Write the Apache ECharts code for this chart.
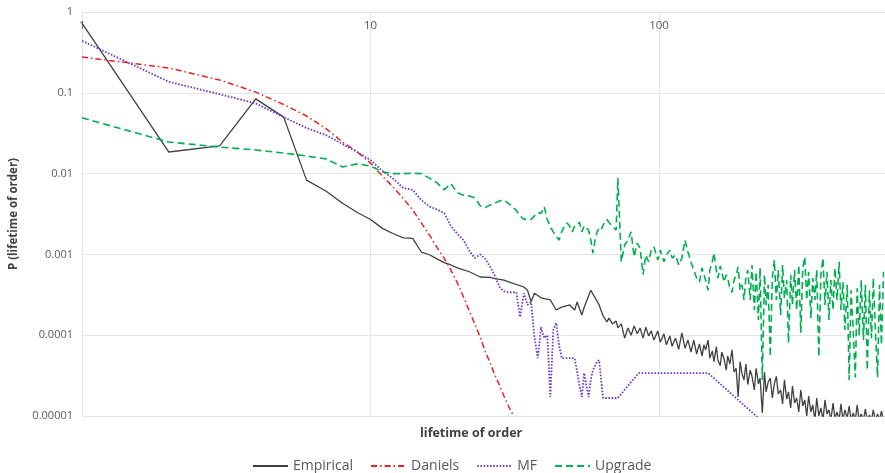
<!DOCTYPE html>
<html>
<head>
<meta charset="utf-8">
<script src="https://cdn.jsdelivr.net/npm/echarts@6/dist/echarts.min.js"></script>
<style>
html,body{margin:0;padding:0;background:#fff;}
#chart{width:885px;height:473px;}
</style>
</head>
<body>
<div id="chart"></div>
<script>
// ---------- tick labels ----------
const xTickValues = [1, 10, 100];
const xTickLabels = { '0': '1', '1': '10', '2': '100' };
const yTickLabels = { '-5': '0.00001', '-4': '0.0001', '-3': '0.001', '-2': '0.01', '-1': '0.1', '0': '1' };
const seriesNames = ['Empirical', 'Daniels', 'MF', 'Upgrade'];

// ---------- Empirical ----------
const empiricalHeadX = [1,2,3,4,5,6,7,8,9,10,11,12,13,14,15,16,17,18,19,20,
  22,24,26,27,29,31,34,35,36,37,39,42,44,46,49,51,52,54,55,58,62];
const empiricalHeadY = [0.73,0.0185,0.022,0.084,0.050,0.0083,0.0061,0.0043,0.0033,0.0027,
  0.0021,0.0018,0.0016,0.00158,0.00107,0.00099,0.00088,0.00079,0.00074,0.00068,
  6.1e-4,5.25e-4,5.2e-4,5.0e-4,4.8e-4,4.4e-4,3.95e-4,3.6e-4,2.6e-4,3.3e-4,
  2.9e-4,2.73e-4,2.05e-4,2.23e-4,2.37e-4,2.05e-4,2.58e-4,1.78e-4,2.2e-4,3.6e-4,2.37e-4];

// shared lifetimes for the noisy tails
const tailX = [64,66,67,69,71,72,74,76,78,80,82,84,86,88,90,92,94,96,99,101,
  104,106,109,111,114,117,120,123,126,129,132,135,138,
  141,143,145,148,150,153,155,158,160,163,165,168,171,173,176,179,182,185,188,191,
  194,197,200,203,207,210,214,217,221,224,228,232,235,239,243,247,251,255,259,264,
  268,272,277,281,286,290,295,300,305,310,315,320,325,330,336,341,347,352,358,364,
  370,376,382,388,394,401,407,414,421,427,434,441,449,456,463,471,479,486,494,502,
  511,519,527,536,545,553,562,572,581,590,600];

const empiricalTailY = [1.73e-4,1.46e-4,1.63e-4,1.38e-4,1.5e-4,1.23e-4,1.38e-4,9.2e-5,1.23e-4,1.0e-4,
  1.3e-4,1.04e-4,1.23e-4,9.2e-5,1.26e-4,9.8e-5,1.13e-4,8.7e-5,1.13e-4,8.2e-5,
  1.04e-4,7.6e-5,9.8e-5,7.3e-5,9.2e-5,6.7e-5,1.07e-4,6.9e-5,8.7e-5,6.2e-5,8.7e-5,5.85e-5,7.8e-5,
  5.5e-5,7.6e-5,6.6e-5,8.7e-5,5.2e-5,6.4e-5,4.7e-5,7.2e-5,4.9e-5,4.2e-5,
  6.2e-5,5.1e-5,3.7e-5,5.5e-5,4.4e-5,6.6e-5,3.5e-5,3.9e-5,1.72e-5,4.7e-5,
  3.3e-5,2.8e-5,4.4e-5,2.45e-5,3.7e-5,3.1e-5,2.1e-5,3.9e-5,2.5e-5,2.95e-5,
  1.09e-5,3.5e-5,1.98e-5,2.64e-5,2.95e-5,1.67e-5,2.5e-5,3.1e-5,1.87e-5,2.1e-5,
  1.41e-5,2.8e-5,1.62e-5,1.98e-5,1.26e-5,2.35e-5,1.45e-5,1.67e-5,1.12e-5,2.1e-5,
  1.33e-5,1.58e-5,1.0e-5,1.77e-5,1.12e-5,1.37e-5,8.9e-6,1.67e-5,1.0e-5,1.26e-5,
  8.9e-6,1.58e-5,1.06e-5,1.19e-5,8.9e-6,1.45e-5,9.4e-6,1.12e-5,8.9e-6,1.41e-5,
  8.9e-6,1.19e-5,9.4e-6,1.33e-5,8.9e-6,1.09e-5,8.9e-6,1.37e-5,8.9e-6,1.06e-5,
  8.9e-6,1.22e-5,8.9e-6,1.03e-5,8.9e-6,1.19e-5,8.9e-6,1.06e-5,8.9e-6,1.15e-5,8.9e-6];

// ---------- Daniels ----------
const danielsX = [1,2,3,4,5,6,7,8,9,10,11,12,13,14,15,16,17,18,19,20,21,22,23,24,25,26,27,28,29,30,31,32];
const danielsY = [0.277,0.203,0.144,0.102,0.0716,0.0516,0.0362,0.0246,0.0185,0.0135,
  0.0093,0.0068,0.0049,0.00355,0.00245,0.00174,0.00122,0.0009,0.00064,0.000445,
  2.97e-4,2.0e-4,1.38e-4,9.4e-5,6.3e-5,4.5e-5,3.2e-5,2.4e-5,1.77e-5,1.35e-5,1.07e-5,8e-6];

// ---------- MF ----------
const mfX = [1,2,3,4,5,6,7,8,9,10,11,12,13,14,15,16,17,18,19,20,21,22,23,24,25,26,27,28,29,30,
  32,33,34,35,36,37,38,39,40,41,42,43,44,45,46,51,53,54,55,56,57,58,59,61,62,63,64,72,85,148,217,230];
const mfY = [0.44,0.137,0.096,0.074,0.050,0.0367,0.030,0.0232,0.0185,0.0147,
  0.0108,0.0086,0.0066,0.0063,0.0047,0.0039,0.0036,0.00325,0.00225,0.0018,
  0.0015,0.00111,9.0e-4,1.0e-3,8.8e-4,7.0e-4,5.4e-4,3.95e-4,3.5e-4,3.4e-4,
  3.4e-4,1.68e-4,3.3e-4,2.37e-4,2.58e-4,9.5e-5,5.2e-5,1.26e-4,9.2e-5,1.0e-4,
  1.72e-5,1.16e-4,1.42e-4,7.6e-5,5.2e-5,5.2e-5,2.4e-5,1.72e-5,3.4e-5,2.4e-5,
  1.72e-5,2.8e-5,3.7e-5,4.7e-5,4.9e-5,2.8e-5,1.67e-5,1.67e-5,3.4e-5,3.4e-5,1.0e-5,8e-6];

// ---------- Upgrade ----------
const upgradeHeadX = [1,2,3,4,5,6,7,8,9,10,11,12,13,14,15,16,17,18,19,20,
  21,22,23,24,25,26,27,28,29,30,31,32,33,34,35,36,37,38,39,40,
  41,42,43,44,45,46,47,48,49,50,51,52,53,54,55,56,57,58,59,60,61,62,63];
const upgradeHeadY = [0.049,0.0246,0.0213,0.0196,0.018,0.0165,0.0152,0.0121,0.0132,0.0124,
  0.0105,0.0100,0.0100,0.0101,0.0100,0.0088,0.0077,0.0063,0.0075,0.0058,
  0.0054,0.0053,0.0050,0.0040,0.0038,0.0041,0.0043,0.0046,0.0047,0.0043,
  0.0039,0.0035,0.0030,0.0027,0.0028,0.0027,0.0030,0.0033,0.0032,0.0039,
  0.0027,0.0022,0.0019,0.0017,0.0015,0.0019,0.00225,0.00245,0.00225,0.0019,
  0.00225,0.0023,0.0025,0.0019,0.00225,0.0021,0.0020,0.0015,0.00104,0.0015,
  0.0019,0.0021,0.0020];
const upgradeTailY = [0.0023,0.0027,0.0025,0.0022,0.0020,0.0088,8.1e-4,1.31e-3,1.5e-3,1.9e-3,
  9.3e-4,1.38e-3,1.2e-3,5.6e-4,9.8e-4,8.1e-4,1.13e-3,1.24e-3,8.5e-4,1.13e-3,
  8.1e-4,9.8e-4,1.13e-3,9.0e-4,9.8e-4,7.4e-4,9.0e-4,1.5e-3,1.07e-3,8.1e-4,6.4e-4,5.1e-4,4.55e-4,
  6.8e-4,5.7e-4,4.8e-4,3.6e-4,6.4e-4,8.1e-4,1.04e-3,6.4e-4,5.1e-4,7.2e-4,6.1e-4,4.55e-4,5.6e-4,5.1e-4,3.8e-4,3.4e-4,4.8e-4,5.6e-4,7.0e-4,3.6e-4,
  4.2e-4,2.73e-4,5.25e-4,6.4e-4,2.73e-4,7.4e-4,2.05e-4,6.1e-4,1.54e-4,6.8e-4,2.8e-5,5.6e-4,2.37e-4,4.2e-4,5.4e-5,5.1e-4,8.5e-4,2.73e-4,6.4e-4,1.78e-4,
  7.4e-4,2.9e-4,4.8e-4,8.0e-5,5.6e-4,2.37e-4,6.4e-4,2.05e-4,7.4e-4,1.07e-4,6.8e-4,9.3e-4,2.73e-4,6.1e-4,1.63e-4,5.1e-4,2.73e-4,6.4e-4,5.4e-5,5.6e-4,
  9.0e-4,2.37e-4,6.1e-4,1.54e-4,4.8e-4,2.05e-4,6.8e-4,2.73e-4,8.1e-4,2.05e-4,4.55e-4,1.16e-4,4.2e-4,2.8e-5,3.6e-4,1.16e-4,3.0e-5,3.8e-4,1.0e-4,4.8e-4,
  8.7e-5,4.2e-4,3.7e-5,3.6e-4,9.2e-5,5.1e-4,1.16e-4,3.0e-5,4.2e-4,7.6e-5,6.1e-4];

function zip(xs, ys) { return xs.map((x, i) => [x, ys[i]]); }

const empiricalData = zip(empiricalHeadX, empiricalHeadY).concat(zip(tailX, empiricalTailY));
const danielsData = zip(danielsX, danielsY);
const mfData = zip(mfX, mfY);
const upgradeData = zip(upgradeHeadX, upgradeHeadY).concat(zip(tailX, upgradeTailY));

const FONT = 'Open Sans';
const chart = echarts.init(document.getElementById('chart'), null, { renderer: 'canvas' });

chart.setOption({
  animation: false,
  backgroundColor: '#ffffff',
  grid: { left: 76, right: 0, top: 12, bottom: 57 },
  xAxis: {
    type: 'log', logBase: 10, min: 1, max: 607, position: 'top',
    axisLine: { show: true, lineStyle: { color: '#e3e3e3', width: 1 } },
    axisTick: { show: false },
    axisLabel: {
      inside: true, margin: 8, color: '#595959', fontFamily: FONT, fontSize: 11.5,
      customValues: xTickValues, hideOverlap: false,
      formatter: function (v) {
        const r = Math.round(Math.log10(v));
        return xTickLabels[String(r)] || '';
      }
    },
    splitLine: { show: true, lineStyle: { color: '#e6e6e6', width: 1 } }
  },
  yAxis: {
    type: 'log', logBase: 10, min: 0.00001, max: 1,
    name: 'P (lifetime of order)', nameLocation: 'middle', nameGap: 62,
    nameTextStyle: { color: '#404040', fontFamily: FONT, fontSize: 11.5, fontWeight: 'bold' },
    axisLine: { show: true, lineStyle: { color: '#e3e3e3', width: 1 } },
    axisTick: { show: false },
    axisLabel: {
      color: '#595959', fontFamily: FONT, fontSize: 11, margin: 9,
      formatter: function (v) {
        const r = Math.round(Math.log10(v));
        return yTickLabels[String(r)] || '';
      }
    },
    splitLine: { show: true, lineStyle: { color: '#e6e6e6', width: 1 } }
  },
  legend: {
    data: seriesNames,
    left: 247, top: 454,
    itemWidth: 35, itemHeight: 10, itemGap: 17,
    itemStyle: { color: 'rgba(0,0,0,0)', borderColor: 'rgba(0,0,0,0)', borderWidth: 0, opacity: 0 },
    textStyle: { color: '#595959', fontFamily: FONT, fontSize: 14 }
  },
  graphic: [{
    type: 'text', left: 420, top: 427,
    style: { text: 'lifetime of order', fill: '#404040', font: 'bold 12.5px "Open Sans"' }
  }],
  series: [
    {
      name: 'Empirical', type: 'line', data: empiricalData, symbol: 'none', showSymbol: false,
      lineStyle: { color: '#404040', width: 1.3, type: 'solid' }, itemStyle: { color: '#404040' }, z: 2
    },
    {
      name: 'Daniels', type: 'line', data: danielsData, symbol: 'none', showSymbol: false,
      lineStyle: { color: '#e8231d', width: 1.5, type: [6, 3, 1.5, 3] }, itemStyle: { color: '#e8231d' }, z: 3
    },
    {
      name: 'MF', type: 'line', data: mfData, symbol: 'none', showSymbol: false,
      lineStyle: { color: '#6a3fd0', width: 1.8, type: [1.6, 1.6] }, itemStyle: { color: '#6a3fd0' }, z: 4
    },
    {
      name: 'Upgrade', type: 'line', data: upgradeData, symbol: 'none', showSymbol: false,
      lineStyle: { color: '#00b050', width: 1.6, type: [7, 4] }, itemStyle: { color: '#00b050' }, z: 5
    }
  ]
});
</script>
</body>
</html>
